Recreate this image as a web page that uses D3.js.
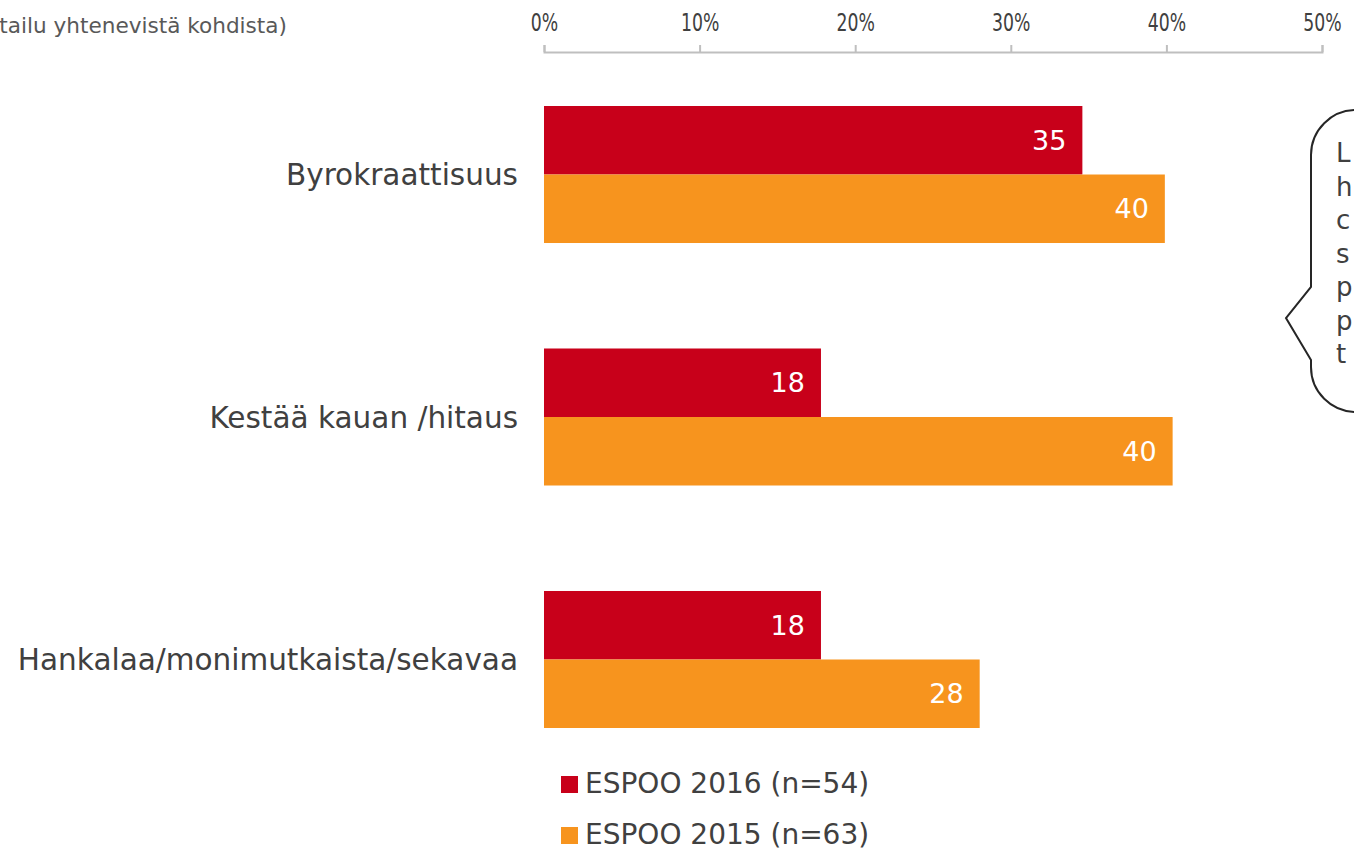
<!DOCTYPE html>
<html>
<head>
<meta charset="utf-8">
<script src="https://cdn.jsdelivr.net/npm/d3@7"></script>
<style>
  body { margin: 0; background: #fff; overflow: hidden; }
  svg { display: block; font-family: 'DejaVu Sans', Verdana, sans-serif; }
</style>
</head>
<body>
<svg class="svgChart"></svg>
<script>
// chart data
const categories = ['Byrokraattisuus', 'Kestää kauan /hitaus', 'Hankalaa/monimutkaista/sekavaa'];
const seriesNames = ['ESPOO 2016 (n=54)', 'ESPOO 2015 (n=63)'];
const values2016 = [34.6, 17.8, 17.8];
const values2015 = [39.9, 40.4, 28.0];
const labels2016 = ['35', '18', '18'];
const labels2015 = ['40', '40', '28'];
const tickValues = [0, 10, 20, 30, 40, 50];
const colors = ['#C8001A', '#F7941E'];
const calloutLetters = ['L', 'h', 'c', 's', 'p', 'p', 't'];

const width = 1354;
const height = 850;

const svg = d3.select('.svgChart')
  .attr('width', width)
  .attr('height', height);

// scales
const xScale = d3.scaleLinear()
  .domain([0, 50])
  .range([544, 1322]);

const yScale = d3.scaleBand()
  .domain(categories)
  .range([106, 728])
  .paddingInner(0.435)
  .paddingOuter(0);

const ySub = d3.scaleBand()
  .domain(seriesNames)
  .range([0, yScale.bandwidth()]);

const colorScale = d3.scaleOrdinal()
  .domain(seriesNames)
  .range(colors);

// rows for the bars
const rows = [];
categories.forEach((c, i) => {
  rows.push({cat: c, series: seriesNames[0], value: values2016[i], label: labels2016[i]});
  rows.push({cat: c, series: seriesNames[1], value: values2015[i], label: labels2015[i]});
});

// top-left note (only the visible tail of it shows in the original)
svg.append('text')
  .attr('x', 287)
  .attr('y', 33)
  .attr('text-anchor', 'end')
  .attr('font-size', 21.6)
  .attr('fill', '#595959')
  .text('tailu yhtenevistä kohdista)');

// x axis on top
const xAxis = d3.axisTop(xScale)
  .tickValues(tickValues)
  .tickSize(7)
  .tickSizeOuter(7)
  .tickFormat(d => d + '%');

const axisG = svg.append('g')
  .attr('class', 'xAxis')
  .attr('transform', 'translate(0, 52)')
  .call(xAxis);

axisG.select('.domain')
  .attr('stroke', '#BFBFBF')
  .attr('stroke-width', 2);
axisG.selectAll('.tick line')
  .attr('stroke', '#BFBFBF')
  .attr('stroke-width', 2);
axisG.selectAll('.tick text')
  .attr('y', 0)
  .attr('font-size', 24)
  .attr('font-family', "'DejaVu Sans', sans-serif")
  .attr('fill', '#404040')
  //labels look squeezed in the original
  .attr('transform', 'translate(0, -21) scale(0.72, 1)');

// bars
const barG = svg.append('g').attr('class', 'chart');

barG.selectAll('rect')
  .data(rows)
  .enter()
  .append('rect')
    .attr('x', xScale(0))
    .attr('y', d => yScale(d.cat) + ySub(d.series))
    .attr('width', d => xScale(d.value) - xScale(0))
    .attr('height', ySub.bandwidth())
    .attr('fill', d => colorScale(d.series));

barG.selectAll('text')
  .data(rows)
  .enter()
  .append('text')
    .attr('x', d => xScale(d.value) - 16)
    .attr('y', d => yScale(d.cat) + ySub(d.series) + ySub.bandwidth() / 2)
    .attr('dy', '0.36em')
    .attr('text-anchor', 'end')
    .attr('font-size', 27)
    .attr('fill', '#fff')
    .text(d => d.label);

// category labels
svg.append('g')
  .selectAll('text')
  .data(categories)
  .enter()
  .append('text')
    .attr('x', 518)
    .attr('y', d => yScale(d) + yScale.bandwidth() / 2)
    .attr('dy', '0.36em')
    .attr('text-anchor', 'end')
    .attr('font-size', 29.5)
    .attr('fill', '#404040')
    .text(d => d);

// legend
const legend = svg.append('g')
  .attr('class', 'legend')
  .selectAll('g')
  .data(seriesNames)
  .enter()
  .append('g')
    .attr('transform', (d, i) => `translate(561, ${776 + i * 51})`);

legend.append('rect')
  .attr('width', 17)
  .attr('height', 17)
  .attr('fill', d => colorScale(d));

legend.append('text')
  .attr('x', 24)
  .attr('y', 17)
  .attr('font-size', 28)
  .attr('fill', '#404040')
  .text(d => d);

// speech bubble on the right, cut off by the edge
const bubble = d3.path();
bubble.moveTo(1360, 110);
bubble.lineTo(1356, 110);
bubble.arcTo(1311, 110, 1311, 155, 45);
bubble.lineTo(1311, 287);
bubble.lineTo(1286, 318);
bubble.lineTo(1311, 360);
bubble.arcTo(1311, 412, 1356, 412, 45);
bubble.lineTo(1360, 412);

svg.append('path')
  .attr('d', bubble.toString())
  .attr('fill', '#fff')
  .attr('stroke', '#262626')
  .attr('stroke-width', 2);

svg.append('g')
  .selectAll('text')
  .data(calloutLetters)
  .enter()
  .append('text')
    .attr('x', 1336)
    .attr('y', (d, i) => 162 + i * 33.5)
    .attr('font-size', 26)
    .attr('fill', '#404040')
    .text(d => d);
</script>
</body>
</html>
